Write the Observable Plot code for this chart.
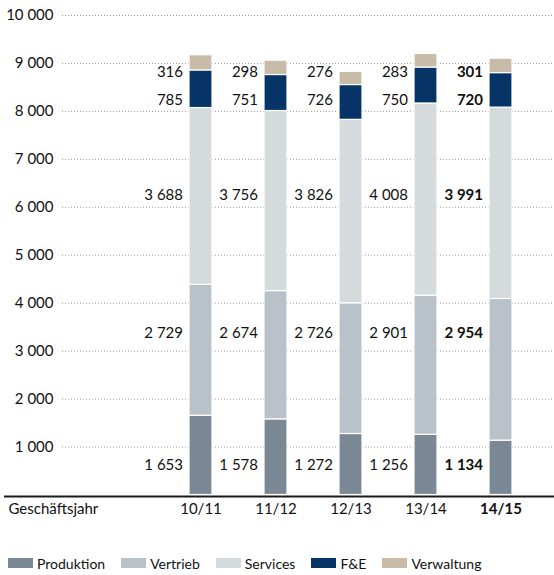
<!DOCTYPE html>
<html>
<head>
<meta charset="utf-8">
<script src="https://cdn.jsdelivr.net/npm/d3@7"></script>
<script src="https://cdn.jsdelivr.net/npm/@observablehq/plot@0.6"></script>
<style>
  body { margin: 0; background: #fff; font-family: Lato, "Open Sans", sans-serif; }
  #chart svg { display: block; }
  .legend { display: flex; align-items: center; margin-left: 8px; margin-top: 25px; font-size: 14px; color: #111; height: 16px; }
  .legend .item { display: flex; align-items: center; margin-right: 16px; }
  .legend .sw { width: 25px; height: 10px; margin-right: 4px; }
</style>
</head>
<body>
<div id="chart"></div>
<script>
// ---- data ----
const years = ["10/11", "11/12", "12/13", "13/14", "14/15"];
const seriesNames = ["Produktion", "Vertrieb", "Services", "F&E", "Verwaltung"];
const produktion = [1653, 1578, 1272, 1256, 1134];
const vertrieb   = [2729, 2674, 2726, 2901, 2954];
const services   = [3688, 3756, 3826, 4008, 3991];
const fue        = [785, 751, 726, 750, 720];
const verwaltung = [316, 298, 276, 283, 301];
const yTicks = [1000, 2000, 3000, 4000, 5000, 6000, 7000, 8000, 9000, 10000];
const highlightYear = "14/15";
const xTitle = "Geschäftsjahr";

// ---- presentation ----
const colors = ["#7a8794", "#bac2c9", "#d5dadd", "#063467", "#c8bba8"];
// vertical label level (in data units) for each series' value row
const labelLevel = [615, 3380, 6246, 8227, 8810];

const seriesValues = [produktion, vertrieb, services, fue, verwaltung];
const rows = [];
seriesNames.forEach((s, si) => {
  years.forEach((y, yi) => {
    rows.push({year: y, series: s, value: seriesValues[si][yi], level: labelLevel[si]});
  });
});

const fmt = v => d3.format(",")(v).replace(/,/g, " ");
const font = "Lato, 'Open Sans', sans-serif";
const FS = 15;

const W = 554, H = 530;
const step = 75.875, c0 = 199, cN = 502.5;

const chart = Plot.plot({
  width: W,
  height: H,
  marginLeft: 0,
  marginRight: 0,
  marginTop: 15,
  marginBottom: 35.5,
  style: {fontFamily: font, fontSize: FS + "px", color: "#111", background: "#fff"},
  x: {domain: years, range: [c0 - step / 2, cN + step / 2], paddingInner: 0.69, paddingOuter: 0.345, axis: null},
  y: {domain: [0, 10000], axis: null},
  color: {domain: seriesNames, range: colors},
  marks: [
    Plot.ruleY(yTicks, {stroke: "#999", strokeDasharray: "1,2", insetLeft: 62}),
    Plot.barY(rows, {x: "year", y: "value", fill: "series", order: seriesNames, stroke: "#fff", strokeWidth: 1.2}),
    Plot.ruleY([0], {stroke: "#1a1a1a", strokeWidth: 2, insetLeft: 4, dy: 1.5}),
    Plot.axisY(yTicks, {anchor: "left", tickSize: 0, tickPadding: 0, dx: 53, textAnchor: "end", tickFormat: fmt, fontSize: FS, fill: "#111"}),
    Plot.text(rows.filter(d => d.year !== highlightYear), {x: "year", y: "level", text: d => fmt(d.value), textAnchor: "end", dx: -18, fontSize: FS, fill: "#111"}),
    Plot.text(rows.filter(d => d.year === highlightYear), {x: "year", y: "level", text: d => fmt(d.value), textAnchor: "end", dx: -18, fontSize: FS, fontWeight: "bold", fill: "#111"}),
    Plot.text(years.filter(y => y !== highlightYear), {x: d => d, frameAnchor: "bottom", dy: 19, fontSize: FS, fill: "#111"}),
    Plot.text([highlightYear], {x: d => d, frameAnchor: "bottom", dy: 19, fontSize: FS, fontWeight: "bold", fill: "#111"}),
    Plot.text([xTitle], {frameAnchor: "bottom-left", dx: 8, dy: 19, textAnchor: "start", fontSize: FS, fill: "#111"})
  ]
});
document.getElementById("chart").appendChild(chart);

// legend
const legend = document.createElement("div");
legend.className = "legend";
seriesNames.forEach((s, i) => {
  const it = document.createElement("div");
  it.className = "item";
  const sw = document.createElement("div");
  sw.className = "sw";
  sw.style.background = colors[i];
  const t = document.createElement("span");
  t.textContent = s;
  it.appendChild(sw);
  it.appendChild(t);
  legend.appendChild(it);
});
document.getElementById("chart").appendChild(legend);
</script>
</body>
</html>
